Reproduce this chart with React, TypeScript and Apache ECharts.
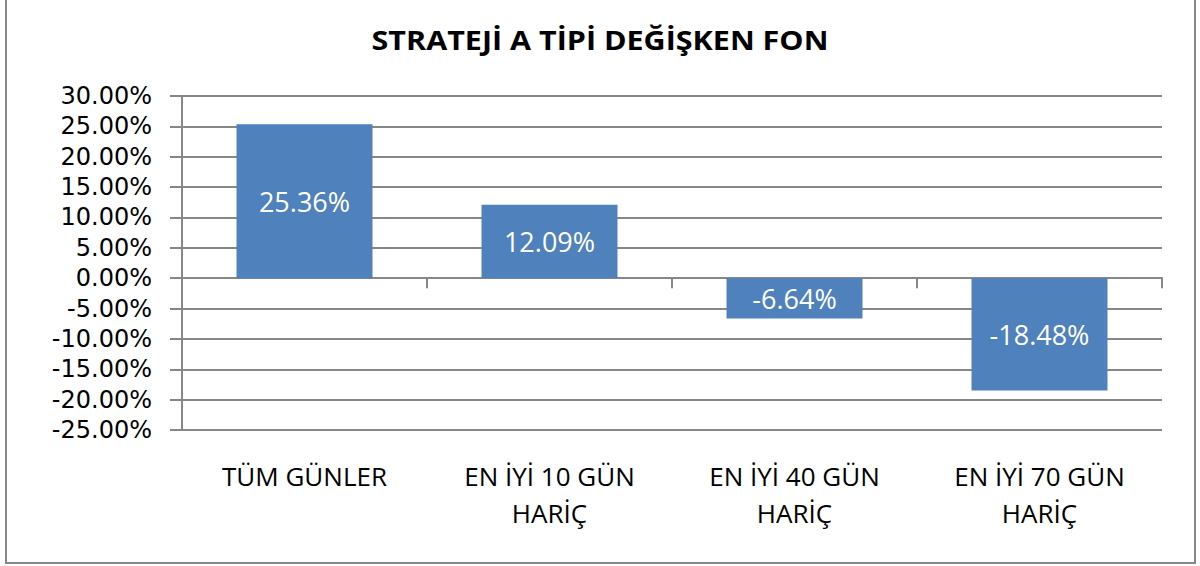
import React, { useEffect, useRef } from "react";
import * as echarts from "echarts";

const titleText = "STRATEJİ A TİPİ DEĞİŞKEN FON";
const categories = ["TÜM GÜNLER", "EN İYİ 10 GÜN\nHARİÇ", "EN İYİ 40 GÜN\nHARİÇ", "EN İYİ 70 GÜN\nHARİÇ"];
const values = [25.36, 12.09, -6.64, -18.48];
const yMin = -25;
const yMax = 30;
const yStep = 5;

const FONT = "'Open Sans', 'Noto Sans', sans-serif";
const YFONT = "'DejaVu Sans', sans-serif";
const GRAY = "#878787";

export default function App() {
  const ref = useRef<HTMLDivElement>(null);
  useEffect(() => {
    if (!ref.current) return;
    const chart = echarts.init(ref.current, null, { renderer: "svg" });
    chart.setOption({
      animation: false,
      backgroundColor: "#ffffff",
      textStyle: { fontFamily: FONT },
      graphic: [
        {
          type: "rect",
          shape: { x: 6, y: -2, width: 1189, height: 565 },
          style: { fill: "none", stroke: GRAY, lineWidth: 2 },
          silent: true,
        },
        {
          type: "text",
          x: 600,
          y: 39,
          scaleX: 1.13,
          style: {
            text: titleText,
            fontFamily: FONT,
            fontWeight: "bold",
            fontSize: 27,
            fill: "#000",
            align: "center",
            verticalAlign: "middle",
          },
        },
      ],
      grid: { left: 182, right: 38, top: 96, bottom: 136, containLabel: false },
      xAxis: [
        {
          type: "category",
          data: categories,
          axisLine: { show: true, onZero: true, lineStyle: { color: GRAY, width: 2 } },
          axisTick: { show: true, length: 10, lineStyle: { color: GRAY, width: 2 } },
          axisLabel: { show: false },
          splitLine: { show: false },
        },
        {
          type: "category",
          data: categories,
          position: "bottom",
          axisLine: { show: false, onZero: false },
          axisTick: { show: false },
          axisLabel: {
            show: true,
            fontSize: 26,
            lineHeight: 37,
            color: "#000",
            fontFamily: FONT,
            margin: 27,
            interval: 0,
          },
          splitLine: { show: false },
        },
      ],
      yAxis: {
        type: "value",
        min: yMin,
        max: yMax,
        interval: yStep,
        axisLine: { show: true, lineStyle: { color: GRAY, width: 2 } },
        axisTick: { show: true, length: 12, lineStyle: { color: GRAY, width: 2 } },
        axisLabel: {
          fontSize: 24,
          lineHeight: 26,
          color: "#000",
          fontFamily: YFONT,
          margin: 30,
          formatter: (v: number) => v.toFixed(2) + "%",
        },
        splitLine: { show: true, lineStyle: { color: GRAY, width: 2 } },
      },
      series: [
        {
          type: "bar",
          xAxisIndex: 0,
          data: values,
          barWidth: "55.5%",
          itemStyle: { color: "#4F81BD" },
          label: {
            show: true,
            position: "inside",
            color: "#fff",
            fontSize: 27,
            fontFamily: FONT,
            formatter: (p: any) => Number(p.value).toFixed(2) + "%",
          },
        },
      ],
    });
    return () => chart.dispose();
  }, []);
  return (
    <div
      ref={ref}
      style={{ position: "absolute", left: 0, top: 0, width: 1200, height: 566 }}
    />
  );
}
